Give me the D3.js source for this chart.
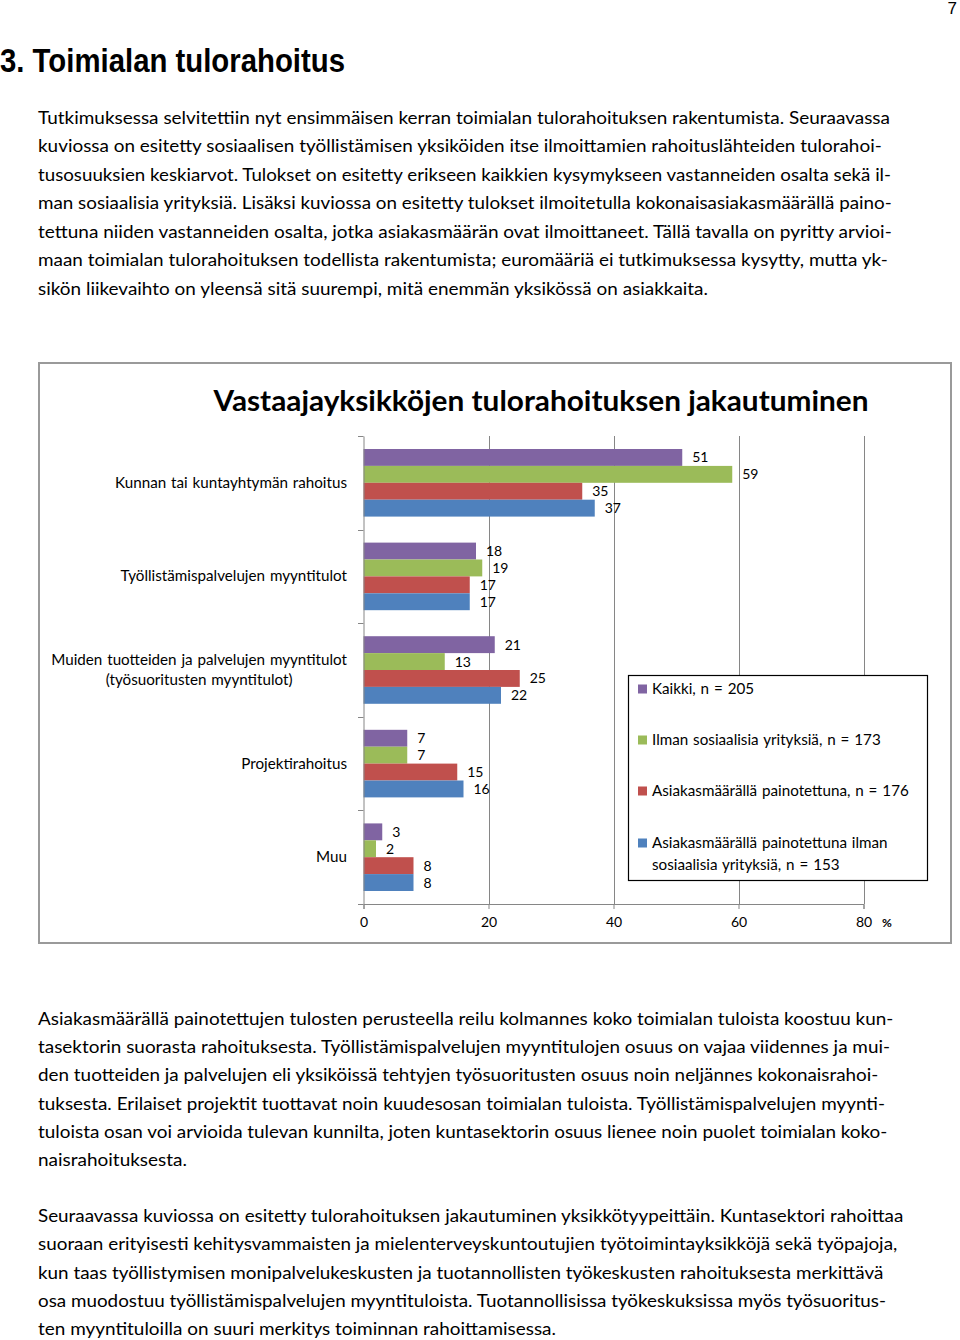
<!DOCTYPE html>
<html><head><meta charset="utf-8">
<script src="https://cdn.jsdelivr.net/npm/d3@7"></script>
<style>
html,body{margin:0;padding:0;background:#fff;}
svg{display:block;}
</style></head>
<body>
<script>
// ---- data ----
const categories = [
  "Kunnan tai kuntayhtymän rahoitus",
  "Työllistämispalvelujen myyntitulot",
  "Muiden tuotteiden ja palvelujen myyntitulot\n(työsuoritusten myyntitulot)",
  "Projektirahoitus",
  "Muu"
];
const seriesNames = [
  "Kaikki, n = 205",
  "Ilman sosiaalisia yrityksiä, n = 173",
  "Asiakasmäärällä painotettuna, n = 176",
  "Asiakasmäärällä painotettuna ilman\nsosiaalisia yrityksiä, n = 153"
];
const kaikki        = [51, 18, 21, 7, 3];
const ilmanSos      = [59, 19, 13, 7, 2];
const painotettu    = [35, 17, 25, 15, 8];
const painotettuIlm = [37, 17, 22, 16, 8];
const xTicks = [0, 20, 40, 60, 80];
const colors = ["#8064A2", "#9BBB59", "#C0504D", "#4F81BD"];

const chartTitle = "Vastaajayksikköjen tulorahoituksen jakautuminen";
const pageTitle = "3. Toimialan tulorahoitus";
const para1 = [
 "Tutkimuksessa selvitettiin nyt ensimmäisen kerran toimialan tulorahoituksen rakentumista. Seuraavassa",
 "kuviossa on esitetty sosiaalisen työllistämisen yksiköiden itse ilmoittamien rahoituslähteiden tulorahoi-",
 "tusosuuksien keskiarvot. Tulokset on esitetty erikseen kaikkien kysymykseen vastanneiden osalta sekä il-",
 "man sosiaalisia yrityksiä. Lisäksi kuviossa on esitetty tulokset ilmoitetulla kokonaisasiakasmäärällä paino-",
 "tettuna niiden vastanneiden osalta, jotka asiakasmäärän ovat ilmoittaneet. Tällä tavalla on pyritty arvioi-",
 "maan toimialan tulorahoituksen todellista rakentumista; euromääriä ei tutkimuksessa kysytty, mutta yk-",
 "sikön liikevaihto on yleensä sitä suurempi, mitä enemmän yksikössä on asiakkaita."
];
const para2 = [
 "Asiakasmäärällä painotettujen tulosten perusteella reilu kolmannes koko toimialan tuloista koostuu kun-",
 "tasektorin suorasta rahoituksesta. Työllistämispalvelujen myyntitulojen osuus on vajaa viidennes ja mui-",
 "den tuotteiden ja palvelujen eli yksiköissä tehtyjen työsuoritusten osuus noin neljännes kokonaisrahoi-",
 "tuksesta. Erilaiset projektit tuottavat noin kuudesosan toimialan tuloista. Työllistämispalvelujen myynti-",
 "tuloista osan voi arvioida tulevan kunnilta, joten kuntasektorin osuus lienee noin puolet toimialan koko-",
 "naisrahoituksesta."
];
const para3 = [
 "Seuraavassa kuviossa on esitetty tulorahoituksen jakautuminen yksikkötyypeittäin. Kuntasektori rahoittaa",
 "suoraan erityisesti kehitysvammaisten ja mielenterveyskuntoutujien työtoimintayksikköjä sekä työpajoja,",
 "kun taas työllistymisen monipalvelukeskusten ja tuotannollisten työkeskusten rahoituksesta merkittävä",
 "osa muodostuu työllistämispalvelujen myyntituloista. Tuotannollisissa työkeskuksissa myös työsuoritus-",
 "ten myyntituloilla on suuri merkitys toiminnan rahoittamisessa."
];

// ---- layout ----
const W = 960, H = 1340;
const svg = d3.select("body").append("svg").attr("width", W).attr("height", H);
svg.append("rect").attr("width", W).attr("height", H).attr("fill", "#fff");

const bodyFont = "Lato, 'Open Sans', sans-serif";
const chartFont = "Lato, 'Open Sans', sans-serif";
const labelSize = 15.2;

// page number & heading
svg.append("text").attr("x", 957).attr("y", 14).attr("text-anchor", "end")
  .attr("font-family", "'Liberation Sans Narrow','Liberation Sans',Arial,sans-serif")
  .attr("font-size", 17).attr("fill", "#000").text("7");
svg.append("text").attr("x", 0).attr("y", 72)
  .attr("font-family", "'Liberation Sans Narrow','Liberation Sans',Arial,sans-serif")
  .attr("font-weight", "bold").attr("font-size", 33).attr("fill", "#000")
  .attr("textLength", 345).attr("lengthAdjust", "spacingAndGlyphs")
  .text(pageTitle);

// paragraphs
function paragraph(lines, y0, lh, ends) {
  lines.forEach((t, i) => {
    svg.append("text").attr("x", 38).attr("y", y0 + i * lh)
      .attr("font-family", bodyFont).attr("font-size", 18).attr("fill", "#000")
      .attr("textLength", ends[i] - 38).attr("lengthAdjust", "spacingAndGlyphs")
      .text(t);
  });
}
paragraph(para1, 124, 28.45, [890, 881.7, 891, 891.7, 891.7, 887.7, 708]);
paragraph(para2, 1025, 28.2, [893.3, 890, 878.3, 885, 887.3, 187]);
paragraph(para3, 1222, 28.3, [903.3, 897.3, 883.3, 886, 556]);

// chart frame
svg.append("rect").attr("x", 39).attr("y", 363).attr("width", 912).attr("height", 580)
  .attr("fill", "#fff").attr("stroke", "#9a9a9a").attr("stroke-width", 2);

svg.append("text").attr("x", 541).attr("y", 411).attr("text-anchor", "middle")
  .attr("font-family", chartFont).attr("font-weight", "bold").attr("font-size", 28)
  .attr("fill", "#000").attr("textLength", 655).attr("lengthAdjust", "spacingAndGlyphs")
  .text(chartTitle);

const series = [kaikki, ilmanSos, painotettu, painotettuIlm];
const x = d3.scaleLinear().domain([0, 80]).range([363.5, 863.5]);
const y = d3.scaleBand().domain(categories).range([436, 904]).padding(0);
const ySub = d3.scaleBand().domain(d3.range(series.length)).range([0, y.bandwidth()])
  .paddingInner(0).paddingOuter(0.77);

const g = svg.append("g");
// gridlines
g.selectAll("line.grid").data(xTicks.slice(1)).join("line")
  .attr("x1", d => Math.round(x(d)) + 0.5).attr("x2", d => Math.round(x(d)) + 0.5)
  .attr("y1", 436).attr("y2", 904).attr("stroke", "#868686").attr("stroke-width", 1);

// bars
categories.forEach((c, ci) => {
  series.forEach((s, si) => {
    const v = s[ci];
    const y0 = y(c) + ySub(si);
    g.append("rect").attr("x", x(0)).attr("y", y0)
      .attr("width", x(v) - x(0)).attr("height", ySub.bandwidth())
      .attr("fill", colors[si]);
    g.append("text").attr("x", x(v) + 10).attr("y", y0 + ySub.bandwidth() / 2 + 5)
      .attr("font-family", chartFont).attr("font-size", 14).attr("fill", "#000")
      .text(d3.format("d")(v));
  });
});

// axes
const xAxis = d3.axisBottom(x).tickValues(xTicks).tickSize(5).tickFormat(d3.format("d"));
const xg = svg.append("g").attr("transform", "translate(0,904)").call(xAxis);
xg.select(".domain").attr("stroke", "#868686");
xg.selectAll(".tick line").attr("stroke", "#868686");
xg.selectAll(".tick text").attr("font-family", chartFont).attr("font-size", 14)
  .attr("fill", "#000").attr("dy", "0").attr("y", 23);
svg.append("text").attr("x", 887).attr("y", 927).attr("text-anchor", "middle")
  .attr("font-family", chartFont).attr("font-weight", "bold").attr("font-size", 12)
  .text("%");

const yAxis = d3.axisLeft(y).tickSize(0).tickFormat("");
const yg = svg.append("g").attr("transform", "translate(363.5,0)").call(yAxis);
yg.select(".domain").attr("stroke", "#868686");
// boundary ticks
const bounds = categories.map(c => y(c)).concat([904]);
svg.selectAll("line.ytick").data(bounds).join("line")
  .attr("x1", 358).attr("x2", 363.5)
  .attr("y1", d => Math.round(d) + 0.5).attr("y2", d => Math.round(d) + 0.5)
  .attr("stroke", "#868686");

// category labels
categories.forEach(c => {
  const lines = c.split("\n");
  const cy = y(c) + y.bandwidth() / 2;
  const t = svg.append("text").attr("font-family", chartFont).attr("font-size", labelSize)
    .attr("word-spacing", 1).attr("fill", "#000");
  const lh = 20.5;
  lines.forEach(l => { t.append("tspan").text(l); });
  const spans = t.selectAll("tspan").nodes();
  const widths = spans.map(n => n.getComputedTextLength());
  const maxW = d3.max(widths);
  const centerX = 347 - maxW / 2;
  spans.forEach((n, i) => {
    d3.select(n).attr("x", centerX).attr("text-anchor", "middle")
      .attr("y", cy + 5 + (i - (lines.length - 1) / 2) * lh);
  });
});

// legend
const lg = svg.append("g");
lg.append("rect").attr("x", 628.5).attr("y", 675.5).attr("width", 299).attr("height", 205)
  .attr("fill", "#fff").attr("stroke", "#000").attr("stroke-width", 1.2);
const legY = [689, 740, 791, 843];
seriesNames.forEach((n, i) => {
  lg.append("rect").attr("x", 638).attr("y", legY[i] - 4.5).attr("width", 9).attr("height", 9)
    .attr("fill", colors[i]);
  n.split("\n").forEach((l, j) => {
    lg.append("text").attr("x", 652).attr("y", legY[i] + 5 + j * 22)
      .attr("font-family", chartFont).attr("font-size", labelSize).attr("word-spacing", 1)
      .attr("fill", "#000").text(l);
  });
});
</script>
</body></html>
